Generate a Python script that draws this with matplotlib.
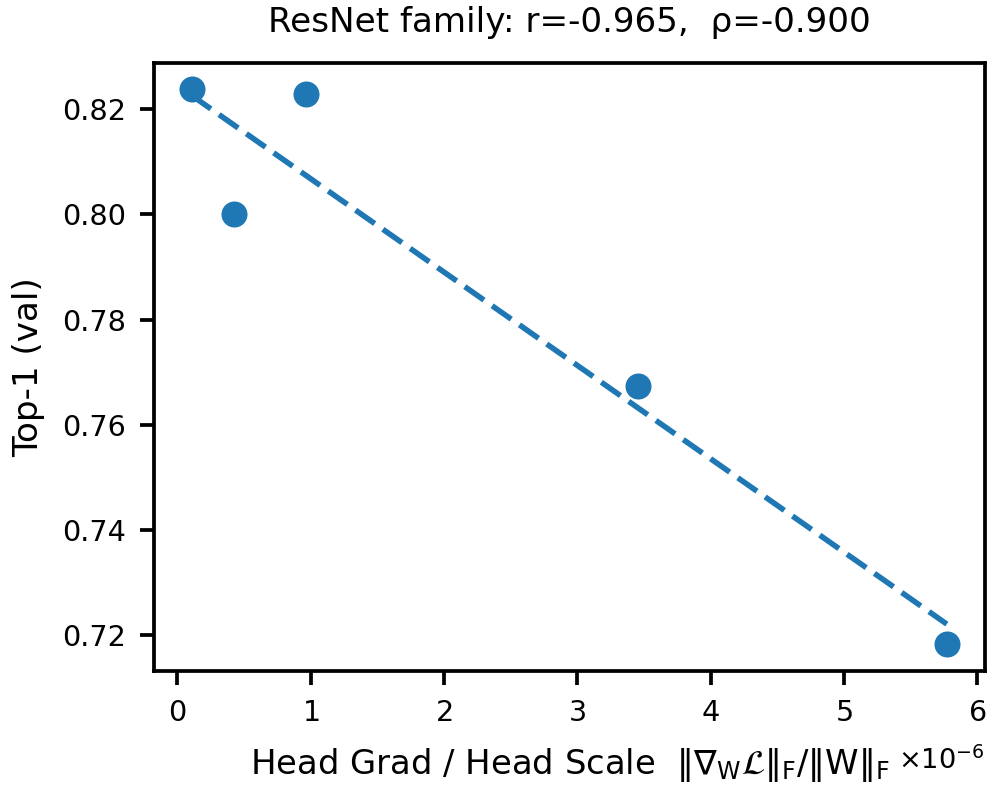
import numpy as np
import matplotlib
matplotlib.use("Agg")
import matplotlib.pyplot as plt

# ResNet family: head grad / head scale ratio vs val top-1
grad_ratio = np.array([0.107, 0.426, 0.964, 3.452, 5.773]) * 1e-6
top1 = np.array([0.8238, 0.8000, 0.8229, 0.7674, 0.7183])
title = "ResNet family: r=-0.965,  \u03c1=-0.900"
yticks = [0.72, 0.74, 0.76, 0.78, 0.80, 0.82]

color = "#1f77b4"
plt.rcParams["mathtext.default"] = "regular"

fig = plt.figure(figsize=(4.975, 3.975), dpi=200)
ax = fig.add_axes([0.1548, 0.156, 0.8352, 0.7648])

ax.scatter(grad_ratio, top1, s=70, color=color, zorder=3)

# least squares fit line across the data range
slope, intercept = np.polyfit(grad_ratio, top1, 1)
xs = np.array([grad_ratio.min(), grad_ratio.max()])
ax.plot(xs, slope * xs + intercept, color=color, lw=2, dashes=(4.2, 1.8))

ax.set_title(title, fontsize=12.3, pad=11)
ax.set_xlabel(r"Head Grad / Head Scale  $\|\nabla_W\mathcal{L}\|_F/\|W\|_F$",
              fontsize=12.2, labelpad=7)
ax.set_ylabel("Top-1 (val)", fontsize=12.3, labelpad=6)
ax.set_yticks(yticks)
ax.set_ylim(0.7132, 0.8288)
ax.set_xlim(-0.176e-6, 6.06e-6)
ax.ticklabel_format(axis="x", style="sci", scilimits=(0, 0), useMathText=True)
ax.xaxis.get_offset_text().set_fontsize(9.8)
ax.xaxis.OFFSETTEXTPAD = 7  # push the x10^-6 down a bit
for s in ax.spines.values():
    s.set_linewidth(1.35)
ax.tick_params(width=1.35, length=5, pad=5, labelsize=10.3)

fig.savefig("out.png", dpi=200)
